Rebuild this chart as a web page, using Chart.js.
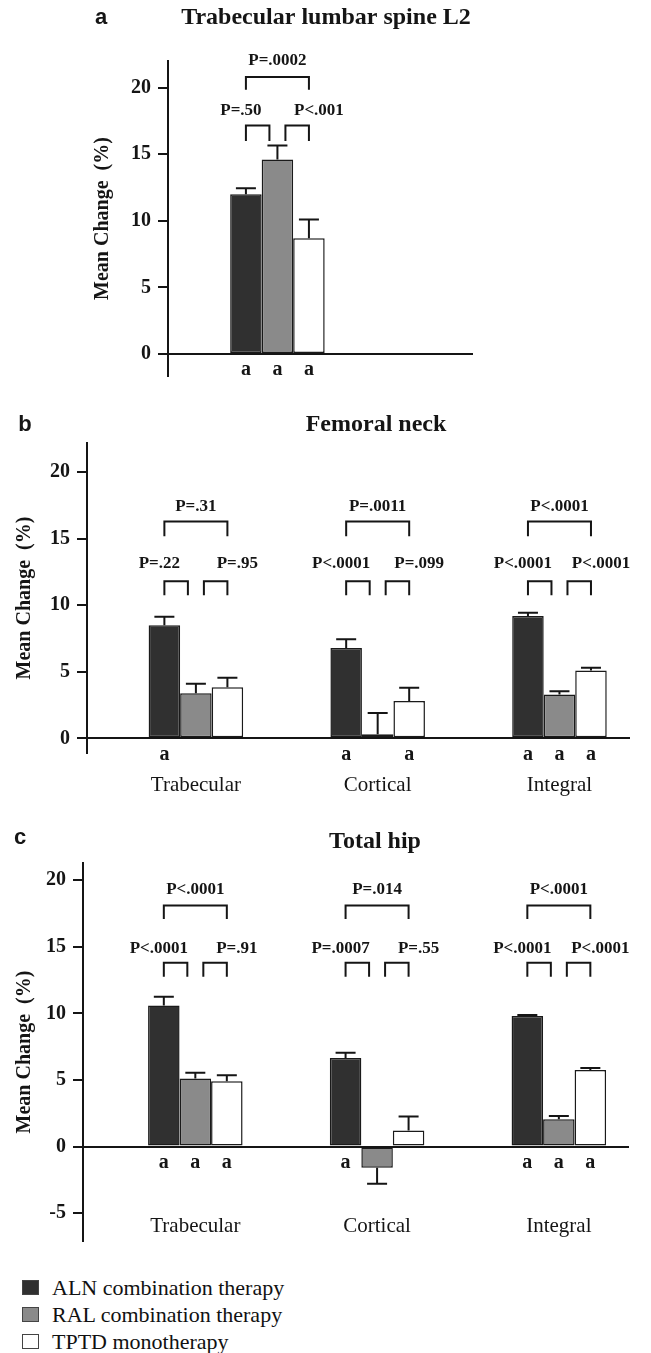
<!DOCTYPE html>
<html>
<head>
<meta charset="utf-8">
<script src="https://cdn.jsdelivr.net/npm/chart.js@4.4.1/dist/chart.umd.min.js"></script>
<style>
  body { margin: 0; background: #fff; }
  .page { position: relative; width: 651px; height: 1353px; overflow: hidden; }
  .page canvas { position: absolute; left: 0; }
  #legend { position: absolute; left: 22px; top: 1274px; font: 22px "Liberation Serif", serif; color: #111; }
  #legend ul { list-style: none; margin: 0; padding: 0; }
  #legend li { display: flex; align-items: center; height: 27px; }
  #legend span { display: inline-block; width: 17px; height: 15px; box-sizing: border-box; border: 1.5px solid #444; margin-right: 13px; }
</style>
</head>
<body>
<div class="page">
  <canvas id="chartA" width="651" height="395" style="top:0"></canvas>
  <canvas id="chartB" width="651" height="405" style="top:395px"></canvas>
  <canvas id="chartC" width="651" height="460" style="top:800px"></canvas>
  <div id="legend"></div>
</div>
<script>
const seriesNames = ["ALN combination therapy", "RAL combination therapy", "TPTD monotherapy"];
const seriesColors = ["#303030", "#8a8a8a", "#ffffff"];
const hipSites = ["Trabecular", "Cortical", "Integral"];

// a - trabecular lumbar spine L2 (one group)
const spineAln = [12.0];
const spineRal = [14.6];
const spineTptd = [8.7];
const spineAlnErr = [0.45];
const spineRalErr = [1.05];
const spineTptdErr = [1.4];
const spineAlnSig = ["a"];
const spineRalSig = ["a"];
const spineTptdSig = ["a"];
const spinePLeft = ["P=.50"];
const spinePRight = ["P<.001"];
const spinePTop = ["P=.0002"];

// b - femoral neck
const neckAln = [8.5, 6.8, 9.2];
const neckRal = [3.4, 0.3, 3.3];
const neckTptd = [3.85, 2.8, 5.1];
const neckAlnErr = [0.65, 0.65, 0.25];
const neckRalErr = [0.7, 1.6, 0.25];
const neckTptdErr = [0.7, 1.0, 0.2];
const neckAlnSig = ["a", "a", "a"];
const neckRalSig = ["", "", "a"];
const neckTptdSig = ["", "a", "a"];
const neckPLeft = ["P=.22", "P<.0001", "P<.0001"];
const neckPRight = ["P=.95", "P=.099", "P<.0001"];
const neckPTop = ["P=.31", "P=.0011", "P<.0001"];

// c - total hip
const hipAln = [10.6, 6.65, 9.8];
const hipRal = [5.1, -1.6, 2.05];
const hipTptd = [4.9, 1.2, 5.75];
const hipAlnErr = [0.65, 0.4, 0.08];
const hipRalErr = [0.45, 1.2, 0.25];
const hipTptdErr = [0.45, 1.05, 0.15];
const hipAlnSig = ["a", "a", "a"];
const hipRalSig = ["a", "", "a"];
const hipTptdSig = ["a", "", "a"];
const hipPLeft = ["P<.0001", "P=.0007", "P<.0001"];
const hipPRight = ["P=.91", "P=.55", "P<.0001"];
const hipPTop = ["P<.0001", "P=.014", "P<.0001"];

const ink = "#151515";
const serif = "'Liberation Serif', 'Times New Roman', serif";

// error bars, p-value brackets, "a" marks, panel title
function marksPlugin(cfg) {
  return {
    id: "panelMarks",
    afterDatasetsDraw(chart) {
      const ctx = chart.ctx;
      const y = chart.scales.y;
      const bars = chart.data.datasets.map((ds, s) => chart.getDatasetMeta(s).data);
      ctx.save();
      ctx.strokeStyle = ink;
      ctx.fillStyle = ink;
      ctx.lineWidth = 2;

      chart.data.datasets.forEach((ds, s) => {
        bars[s].forEach((bar, i) => {
          const v = ds.data[i].y;
          const end = y.getPixelForValue(v + Math.sign(v) * ds.errors[i]);
          ctx.beginPath();
          ctx.moveTo(bar.x, bar.y);
          ctx.lineTo(bar.x, end);
          ctx.moveTo(bar.x - 10, end);
          ctx.lineTo(bar.x + 10, end);
          ctx.stroke();
        });
      });

      const bracket = (x1, x2, level) => {
        const top = y.getPixelForValue(level[0]);
        const foot = y.getPixelForValue(level[1]);
        ctx.beginPath();
        ctx.moveTo(x1, foot);
        ctx.lineTo(x1, top);
        ctx.lineTo(x2, top);
        ctx.lineTo(x2, foot);
        ctx.stroke();
      };

      ctx.textAlign = "center";
      ctx.textBaseline = "middle";
      ctx.font = "bold 17px " + serif;
      cfg.pTop.forEach((p, i) => {
        const xa = bars[0][i].x, xr = bars[1][i].x, xt = bars[2][i].x;
        bracket(xa, xt, cfg.bigBracket);
        bracket(xa, xr - 8, cfg.smallBracket);
        bracket(xr + 8, xt, cfg.smallBracket);
        ctx.fillText(p, (xa + xt) / 2, y.getPixelForValue(cfg.bigBracket[2]));
        ctx.fillText(cfg.pLeft[i], xa - 5, y.getPixelForValue(cfg.smallBracket[2]));
        ctx.fillText(cfg.pRight[i], xt + 10, y.getPixelForValue(cfg.smallBracket[2]));
      });

      ctx.font = "bold 20px " + serif;
      const zero = y.getPixelForValue(0);
      chart.data.datasets.forEach((ds, s) => {
        bars[s].forEach((bar, i) => {
          if (ds.sig[i]) ctx.fillText(ds.sig[i], bar.x, zero + 16);
        });
      });

      ctx.font = "bold 24px " + serif;
      ctx.fillText(cfg.title, cfg.titleAt[0], cfg.titleAt[1]);
      ctx.font = "bold 22px 'Liberation Sans', Arial, sans-serif";
      ctx.fillText(cfg.letter, cfg.letterAt[0], cfg.letterAt[1]);
      ctx.restore();
    },
  };
}

function makePanel(canvasId, cfg) {
  const datasets = seriesNames.map((name, s) => ({
    label: name,
    data: cfg.values[s].map((v, i) => ({ x: i, y: v })),
    backgroundColor: seriesColors[s],
    borderColor: "#1a1a1a",
    borderWidth: 1.5,
    borderSkipped: false,
    categoryPercentage: 0.52,
    barPercentage: 1,
    errors: cfg.errors[s],
    sig: cfg.sig[s],
  }));

  return new Chart(document.getElementById(canvasId), {
    type: "bar",
    data: { datasets },
    options: {
      responsive: false,
      animation: false,
      devicePixelRatio: 1,
      layout: { padding: cfg.padding },
      scales: {
        x: {
          type: "linear",
          offset: false,
          min: cfg.xRange[0],
          max: cfg.xRange[1],
          position: { y: cfg.labelAt },
          grid: { display: false, drawTicks: false, offset: false },
          border: { display: false },
          ticks: {
            stepSize: 1,
            includeBounds: false,
            display: cfg.labels.length > 0,
            padding: 0,
            color: ink,
            font: { family: serif, size: 21 },
            callback: (v) => cfg.labels[v] ?? "",
          },
        },
        y: {
          min: cfg.yRange[0],
          max: cfg.yRange[1],
          afterFit: (scale) => { scale.width = cfg.axisX; },
          border: { display: true, color: ink, width: 2 },
          grid: {
            color: (c) => (c.tick && c.tick.value === 0 ? ink : "transparent"),
            tickColor: ink,
            lineWidth: 2,
            tickLength: 10,
          },
          ticks: {
            stepSize: 5,
            includeBounds: false,
            padding: 7,
            color: ink,
            font: { family: serif, size: 20, weight: "bold" },
          },
          title: {
            display: true,
            text: "Mean Change  (%)",
            color: ink,
            font: { family: serif, size: 20, weight: "bold" },
            padding: { top: cfg.yTitlePad, bottom: 0 },
          },
        },
      },
      plugins: { legend: { display: false }, tooltip: { enabled: false } },
    },
    plugins: [marksPlugin(cfg)],
  });
}

makePanel("chartA", {
  letter: "a", letterAt: [101, 18],
  title: "Trabecular lumbar spine L2", titleAt: [326, 18],
  labels: [],
  values: [spineAln, spineRal, spineTptd],
  errors: [spineAlnErr, spineRalErr, spineTptdErr],
  sig: [spineAlnSig, spineRalSig, spineTptdSig],
  pLeft: spinePLeft, pRight: spinePRight, pTop: spinePTop,
  bigBracket: [20.8, 19.85, 22.0],
  smallBracket: [17.15, 16.0, 18.3],
  padding: { top: 61, bottom: 18, left: 0, right: 178 },
  axisX: 168, yTitlePad: 91,
  yRange: [-1.65, 22.0], xRange: [-0.602, 1.076], labelAt: -3,
});

makePanel("chartB", {
  letter: "b", letterAt: [25, 30],
  title: "Femoral neck", titleAt: [376, 30],
  labels: hipSites,
  values: [neckAln, neckRal, neckTptd],
  errors: [neckAlnErr, neckRalErr, neckTptdErr],
  sig: [neckAlnSig, neckRalSig, neckTptdSig],
  pLeft: neckPLeft, pRight: neckPRight, pTop: neckPTop,
  bigBracket: [16.3, 15.2, 17.4],
  smallBracket: [11.8, 10.75, 13.1],
  padding: { top: 48, bottom: 47, left: 0, right: 21 },
  axisX: 87, yTitlePad: 13,
  yRange: [-1.1, 22.2], xRange: [-0.599, 2.388], labelAt: -2.6,
});

const hipChart = makePanel("chartC", {
  letter: "c", letterAt: [20, 38],
  title: "Total hip", titleAt: [375, 42],
  labels: hipSites,
  values: [hipAln, hipRal, hipTptd],
  errors: [hipAlnErr, hipRalErr, hipTptdErr],
  sig: [hipAlnSig, hipRalSig, hipTptdSig],
  pLeft: hipPLeft, pRight: hipPRight, pTop: hipPTop,
  bigBracket: [18.1, 17.1, 19.3],
  smallBracket: [13.8, 12.76, 14.9],
  padding: { top: 63, bottom: 15, left: 0, right: 22 },
  axisX: 83, yTitlePad: 13,
  yRange: [-7.1, 21.3], xRange: [-0.618, 2.386], labelAt: -5.1,
});

function generateLegend(chart) {
  const box = document.getElementById("legend");
  const ul = document.createElement("UL");
  Chart.defaults.plugins.legend.labels.generateLabels(chart).forEach((item) => {
    const li = document.createElement("LI");
    const swatch = document.createElement("SPAN");
    swatch.style.backgroundColor = item.fillStyle;
    li.appendChild(swatch);
    li.appendChild(document.createTextNode(item.text));
    ul.appendChild(li);
  });
  box.appendChild(ul);
}

generateLegend(hipChart);
</script>
</body>
</html>
